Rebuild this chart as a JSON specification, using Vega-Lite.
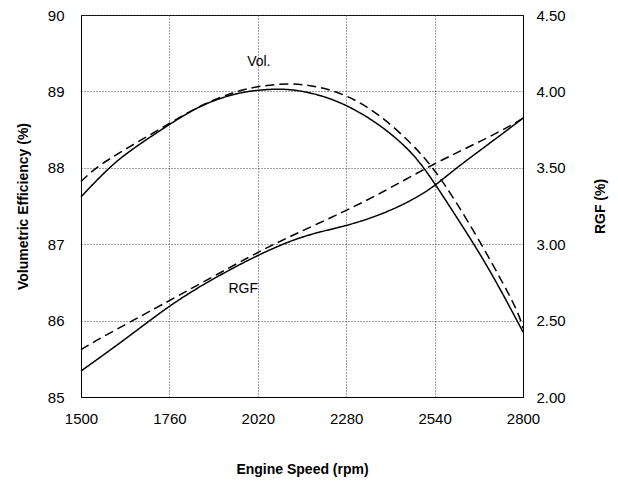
{
  "$schema": "https://vega.github.io/schema/vega-lite/v6.json",
  "width": 442,
  "height": 382,
  "autosize": "none",
  "padding": {"left": 81, "top": 15, "right": 95, "bottom": 93},
  "background": "#ffffff",
  "config": {
    "view": {"stroke": "#000000", "strokeWidth": 1},
    "font": "Liberation Sans",
    "axis": {
      "labelFont": "Liberation Sans",
      "titleFont": "Liberation Sans",
      "labelFontSize": 15,
      "titleFontSize": 14,
      "titleFontWeight": "bold",
      "labelColor": "#000000",
      "titleColor": "#000000",
      "ticks": false,
      "labelFlush": false,
      "labelOverlap": false,
      "domainColor": "#000000",
      "gridColor": "#444444",
      "gridDash": [1, 2],
      "gridOpacity": 1
    }
  },
  "datasets": {
    "vol": [
      {"rpm": 1500, "v": 87.62, "s": "a"},
      {"rpm": 1581, "v": 88.0, "s": "a"},
      {"rpm": 1645, "v": 88.23, "s": "a"},
      {"rpm": 1760, "v": 88.57, "s": "a"},
      {"rpm": 1851, "v": 88.82, "s": "a"},
      {"rpm": 1948, "v": 88.97, "s": "a"},
      {"rpm": 2020, "v": 89.02, "s": "a"},
      {"rpm": 2105, "v": 89.04, "s": "a"},
      {"rpm": 2193, "v": 88.97, "s": "a"},
      {"rpm": 2280, "v": 88.83, "s": "a"},
      {"rpm": 2379, "v": 88.57, "s": "a"},
      {"rpm": 2477, "v": 88.2, "s": "a"},
      {"rpm": 2540, "v": 87.8, "s": "a"},
      {"rpm": 2604, "v": 87.36, "s": "a"},
      {"rpm": 2663, "v": 86.95, "s": "a"},
      {"rpm": 2720, "v": 86.52, "s": "a"},
      {"rpm": 2780, "v": 86.02, "s": "a"},
      {"rpm": 2800, "v": 85.85, "s": "a"},
      {"rpm": 1500, "v": 87.82, "s": "b"},
      {"rpm": 1542, "v": 88.0, "s": "b"},
      {"rpm": 1625, "v": 88.23, "s": "b"},
      {"rpm": 1760, "v": 88.58, "s": "b"},
      {"rpm": 1851, "v": 88.82, "s": "b"},
      {"rpm": 1948, "v": 88.99, "s": "b"},
      {"rpm": 2020, "v": 89.07, "s": "b"},
      {"rpm": 2115, "v": 89.11, "s": "b"},
      {"rpm": 2193, "v": 89.07, "s": "b"},
      {"rpm": 2280, "v": 88.96, "s": "b"},
      {"rpm": 2379, "v": 88.7, "s": "b"},
      {"rpm": 2477, "v": 88.3, "s": "b"},
      {"rpm": 2536, "v": 88.0, "s": "b"},
      {"rpm": 2600, "v": 87.58, "s": "b"},
      {"rpm": 2678, "v": 87.0, "s": "b"},
      {"rpm": 2740, "v": 86.5, "s": "b"},
      {"rpm": 2786, "v": 86.11, "s": "b"},
      {"rpm": 2800, "v": 85.9, "s": "b"}
    ],
    "rgf": [
      {"rpm": 1500, "r": 2.17, "s": "a"},
      {"rpm": 1635, "r": 2.385, "s": "a"},
      {"rpm": 1760, "r": 2.6, "s": "a"},
      {"rpm": 1880, "r": 2.765, "s": "a"},
      {"rpm": 2020, "r": 2.93, "s": "a"},
      {"rpm": 2124, "r": 3.03, "s": "a"},
      {"rpm": 2200, "r": 3.08, "s": "a"},
      {"rpm": 2280, "r": 3.12, "s": "a"},
      {"rpm": 2380, "r": 3.19, "s": "a"},
      {"rpm": 2477, "r": 3.29, "s": "a"},
      {"rpm": 2540, "r": 3.38, "s": "a"},
      {"rpm": 2604, "r": 3.5, "s": "a"},
      {"rpm": 2702, "r": 3.66, "s": "a"},
      {"rpm": 2800, "r": 3.825, "s": "a"},
      {"rpm": 1500, "r": 2.31, "s": "b"},
      {"rpm": 1537, "r": 2.36, "s": "b"},
      {"rpm": 1635, "r": 2.48, "s": "b"},
      {"rpm": 1760, "r": 2.63, "s": "b"},
      {"rpm": 2020, "r": 2.95, "s": "b"},
      {"rpm": 2124, "r": 3.06, "s": "b"},
      {"rpm": 2280, "r": 3.22, "s": "b"},
      {"rpm": 2379, "r": 3.33, "s": "b"},
      {"rpm": 2540, "r": 3.53, "s": "b"},
      {"rpm": 2672, "r": 3.67, "s": "b"},
      {"rpm": 2760, "r": 3.77, "s": "b"},
      {"rpm": 2800, "r": 3.825, "s": "b"}
    ]
  },
  "layer": [
    {
      "layer": [
        {
          "data": {"name": "vol"},
          "mark": {"type": "line", "interpolate": "basis", "color": "#000000", "strokeWidth": 1.5},
          "encoding": {
            "x": {
              "field": "rpm", "type": "quantitative",
              "scale": {"domain": [1500, 2800], "nice": false, "zero": false},
              "axis": {
                "values": [1500, 1760, 2020, 2280, 2540, 2800],
                "format": "d",
                "title": "Engine Speed (rpm)",
                "labelPadding": 14,
                "grid": true,
                "titleY": 72,
                "titleAlign": "center",
                "titleBaseline": "middle"
              }
            },
            "y": {
              "field": "v", "type": "quantitative",
              "scale": {"domain": [85, 90], "nice": false, "zero": false},
              "axis": {
                "values": [85, 86, 87, 88, 89, 90],
                "format": "d",
                "title": "Volumetric Efficiency (%)",
                "labelPadding": 17,
                "grid": true,
                "titleAngle": 270,
                "titleX": -58,
                "titleY": 191,
                "titleAlign": "center",
                "titleBaseline": "middle"
              }
            },
            "strokeDash": {
              "field": "s", "type": "nominal",
              "scale": {"domain": ["a", "b"], "range": [[1, 0], [9, 5]]},
              "legend": null
            }
          }
        },
        {
          "data": {"values": [{"rpm": 2023, "v": 89.39, "t": "Vol."}]},
          "mark": {"type": "text", "font": "Liberation Sans", "fontSize": 14, "color": "#000000", "align": "center", "baseline": "middle"},
          "encoding": {
            "x": {"field": "rpm", "type": "quantitative"},
            "y": {"field": "v", "type": "quantitative"},
            "text": {"field": "t"}
          }
        }
      ]
    },
    {
      "layer": [
        {
          "data": {"name": "rgf"},
          "mark": {"type": "line", "interpolate": "basis", "color": "#000000", "strokeWidth": 1.5},
          "encoding": {
            "x": {"field": "rpm", "type": "quantitative"},
            "y": {
              "field": "r", "type": "quantitative",
              "scale": {"domain": [2, 4.5], "nice": false, "zero": false},
              "axis": {
                "orient": "right",
                "values": [2, 2.5, 3, 3.5, 4, 4.5],
                "format": ".2f",
                "title": "RGF (%)",
                "labelPadding": 13,
                "grid": false,
                "titleAngle": 270,
                "titleX": 77,
                "titleY": 191,
                "titleAlign": "center",
                "titleBaseline": "middle"
              }
            },
            "strokeDash": {
              "field": "s", "type": "nominal",
              "scale": {"domain": ["a", "b"], "range": [[1, 0], [9, 5]]},
              "legend": null
            }
          }
        },
        {
          "data": {"values": [{"rpm": 1977, "r": 2.71, "t": "RGF"}]},
          "mark": {"type": "text", "font": "Liberation Sans", "fontSize": 14, "color": "#000000", "align": "center", "baseline": "middle"},
          "encoding": {
            "x": {"field": "rpm", "type": "quantitative"},
            "y": {"field": "r", "type": "quantitative"},
            "text": {"field": "t"}
          }
        }
      ]
    }
  ],
  "resolve": {"scale": {"y": "independent"}}
}
